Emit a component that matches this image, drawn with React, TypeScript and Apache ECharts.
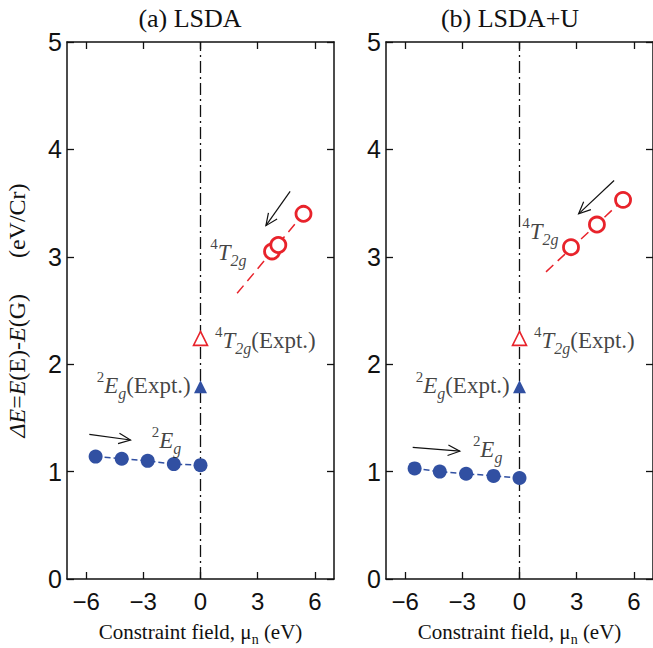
import React, { useEffect, useRef } from "react";
import * as echarts from "echarts";

// ---- data ----
const xTicks = [-6, -3, 0, 3, 6];
const titles = ["(a) LSDA", "(b) LSDA+U"];
const vLine = [[0, 0], [0, 5]];

// panel (a) LSDA
const blueA = [[-5.5, 1.14], [-4.13, 1.12], [-2.77, 1.1], [-1.4, 1.07], [0, 1.06]];
const redA = [[3.75, 3.05], [4.08, 3.11], [5.4, 3.4]];
const redFitA = [[1.92, 2.66], [5.4, 3.4]];
const arrowsA = [[4.7, 3.61, 3.43, 3.29], [-5.83, 1.347, -3.67, 1.294]];
// panel (b) LSDA+U
const blueB = [[-5.5, 1.03], [-4.18, 1.0], [-2.8, 0.98], [-1.36, 0.96], [0, 0.94]];
const redB = [[2.7, 3.09], [4.06, 3.3], [5.43, 3.53]];
const redFitB = [[1.39, 2.86], [5.43, 3.53]];
const arrowsB = [[4.96, 3.71, 3.1, 3.4], [-5.6, 1.226, -3.13, 1.19]];
// experiments (both panels)
const exptE = [[0, 1.79]];
const exptT = [[0, 2.24]];

// label anchors (centers) [x, y, text]
const T2G = "{sup|4}{it|T}{sub|2g}";
const EG = "{sup|2}{it|E}{sub|g}";
const labelsA: [number, number, string][] = [
  [1.46, 3.04, T2G],
  [3.4, 2.22, T2G + "{n|(Expt.)}"],
  [-2.98, 1.8, EG + "{n|(Expt.)}"],
  [-1.78, 1.29, EG],
];
const labelsB: [number, number, string][] = [
  [1.1, 3.24, T2G],
  [3.4, 2.22, T2G + "{n|(Expt.)}"],
  [-2.98, 1.8, EG + "{n|(Expt.)}"],
  [-1.67, 1.21, EG],
];

const BLUE = "#3150a2";
const RED = "#e8232b";
const SERIF = "Liberation Serif";
const SANS = "Liberation Sans";

const rich = {
  sup: { fontSize: 15, fontFamily: SERIF, color: "#111", verticalAlign: "top", lineHeight: 15 },
  it: { fontSize: 23, fontFamily: SERIF, fontStyle: "italic", color: "#111", lineHeight: 32 },
  sub: { fontSize: 16, fontFamily: SERIF, fontStyle: "italic", color: "#111", verticalAlign: "bottom", lineHeight: 16 },
  n: { fontSize: 23, fontFamily: SERIF, color: "#111", lineHeight: 32 },
};

function panel(g: number, blue: number[][], red: number[][], redFit: number[][], arrows: number[][], labels: [number, number, string][]) {
  const xi = g * 2;
  const yi = g * 2;
  const ax = { xAxisIndex: xi, yAxisIndex: yi };
  return [
    {
      type: "line", ...ax, data: vLine, symbol: "none", z: 1,
      lineStyle: { color: "#111", width: 1.3, type: [12, 4, 2, 4] },
    },
    {
      type: "line", ...ax, data: blue, symbol: "none", z: 2,
      lineStyle: { color: BLUE, width: 1.5, type: [6, 3] },
    },
    {
      type: "scatter", ...ax, data: blue, symbol: "circle", symbolSize: 14, z: 3,
      itemStyle: { color: BLUE, opacity: 1 },
    },
    {
      type: "line", ...ax, data: redFit, symbol: "none", z: 2,
      lineStyle: { color: RED, width: 1.5, type: [10, 6] },
    },
    {
      type: "scatter", ...ax, data: red, symbol: "circle", symbolSize: 15, z: 3,
      itemStyle: { color: "#fff", borderColor: RED, borderWidth: 2.8, opacity: 1 },
    },
    {
      type: "scatter", ...ax, data: exptE, symbol: "triangle", symbolSize: 13, z: 4,
      itemStyle: { color: BLUE, opacity: 1 },
    },
    {
      type: "scatter", ...ax, data: exptT, symbol: "triangle", symbolSize: 14, z: 4,
      itemStyle: { color: "#fff", borderColor: RED, borderWidth: 1.6, opacity: 1 },
    },
    {
      type: "custom", ...ax, data: arrows, z: 5,
      encode: { x: [0, 2], y: [1, 3] },
      renderItem: (params: any, api: any) => {
        const p1 = api.coord([api.value(0), api.value(1)]);
        const p2 = api.coord([api.value(2), api.value(3)]);
        const ang = Math.atan2(p2[1] - p1[1], p2[0] - p1[0]);
        const L = 13;
        const a = (24 * Math.PI) / 180;
        const h1 = [p2[0] - L * Math.cos(ang - a), p2[1] - L * Math.sin(ang - a)];
        const h2 = [p2[0] - L * Math.cos(ang + a), p2[1] - L * Math.sin(ang + a)];
        const st = { stroke: "#111", lineWidth: 1.2, fill: "none" };
        return {
          type: "group",
          children: [
            { type: "line", shape: { x1: p1[0], y1: p1[1], x2: p2[0], y2: p2[1] }, style: st },
            { type: "polyline", shape: { points: [h1, p2, h2] }, style: st },
          ],
        };
      },
    },
    {
      type: "scatter", ...ax, data: labels.map((l) => [l[0], l[1], l[2]]), symbolSize: 0, z: 6,
      silent: true,
      label: {
        show: true, position: "inside", align: "center", verticalAlign: "middle",
        formatter: (p: any) => p.data[2], rich,
      },
    },
  ];
}

function axesFor(g: number) {
  const line = { show: true, onZero: false, lineStyle: { color: "#111", width: 1.5 } };
  const tick = { show: true, inside: true, length: 7, customValues: xTicks, lineStyle: { color: "#111", width: 1.3 } };
  const xb = {
    type: "value", gridIndex: g, position: "bottom", min: -7, max: 7,
    axisLine: line, axisTick: tick, splitLine: { show: false },
    axisLabel: {
      show: true, customValues: xTicks, margin: 10, fontSize: 24, fontFamily: SANS, color: "#111",
      formatter: (v: number) => String(v).replace("-", "\u2212"),
    },
    name: "{n|Constraint field, μ}{s|n}{n| (eV)}",
    nameLocation: "middle", nameGap: 39,
    nameTextStyle: {
      rich: {
        n: { fontSize: 21, fontFamily: SERIF, color: "#111", lineHeight: 28 },
        s: { fontSize: 14, fontFamily: SERIF, color: "#111", verticalAlign: "bottom", lineHeight: 14 },
      },
    },
  };
  const xt = {
    type: "value", gridIndex: g, position: "top", min: -7, max: 7,
    axisLine: line, axisTick: tick, splitLine: { show: false }, axisLabel: { show: false },
  };
  const ytick = { show: true, inside: true, length: 7, lineStyle: { color: "#111", width: 1.3 } };
  const yl: any = {
    type: "value", gridIndex: g, position: "left", min: 0, max: 5, interval: 1,
    axisLine: line, axisTick: ytick, splitLine: { show: false },
    axisLabel: { show: true, margin: 5, fontSize: 25, fontFamily: SANS, color: "#111" },
  };
  if (g === 0) {
    yl.name = "{i|ΔE}{n|=}{i|E}{n|(E)-}{i|E}{n|(G)      (eV/Cr)}";
    yl.nameLocation = "middle";
    yl.nameGap = 38;
    yl.nameTextStyle = {
      rich: {
        i: { fontSize: 24, fontFamily: SERIF, fontStyle: "italic", color: "#111" },
        n: { fontSize: 24, fontFamily: SERIF, color: "#111" },
      },
    };
  }
  const yr = {
    type: "value", gridIndex: g, position: "right", min: 0, max: 5, interval: 1,
    axisLine: line, axisTick: ytick, splitLine: { show: false }, axisLabel: { show: false },
  };
  return { x: [xb, xt], y: [yl, yr] };
}

export default function App() {
  const ref = useRef<HTMLDivElement>(null);
  useEffect(() => {
    if (!ref.current) return;
    const chart = echarts.init(ref.current, null, { renderer: "svg" });
    const a0 = axesFor(0);
    const a1 = axesFor(1);
    chart.setOption({
      animation: false,
      backgroundColor: "#fff",
      grid: [
        { left: 67, top: 42, width: 267, height: 537, containLabel: false, outerBoundsMode: "none" },
        { left: 386, top: 42, width: 267, height: 537, containLabel: false, outerBoundsMode: "none" },
      ],
      xAxis: [...a0.x, ...a1.x],
      yAxis: [...a0.y, ...a1.y],
      graphic: [
        { type: "text", x: 190, y: 18, style: { text: titles[0], fontSize: 26, fontFamily: SERIF, fill: "#111", textAlign: "center", textVerticalAlign: "middle" } },
        { type: "text", x: 510, y: 18, style: { text: titles[1], fontSize: 26, fontFamily: SERIF, fill: "#111", textAlign: "center", textVerticalAlign: "middle" } },
      ],
      series: [
        ...panel(0, blueA, redA, redFitA, arrowsA, labelsA),
        ...panel(1, blueB, redB, redFitB, arrowsB, labelsB),
      ],
    });
    return () => chart.dispose();
  }, []);
  return <div ref={ref} style={{ position: "fixed", left: 0, top: 0, width: 653, height: 648 }} />;
}
